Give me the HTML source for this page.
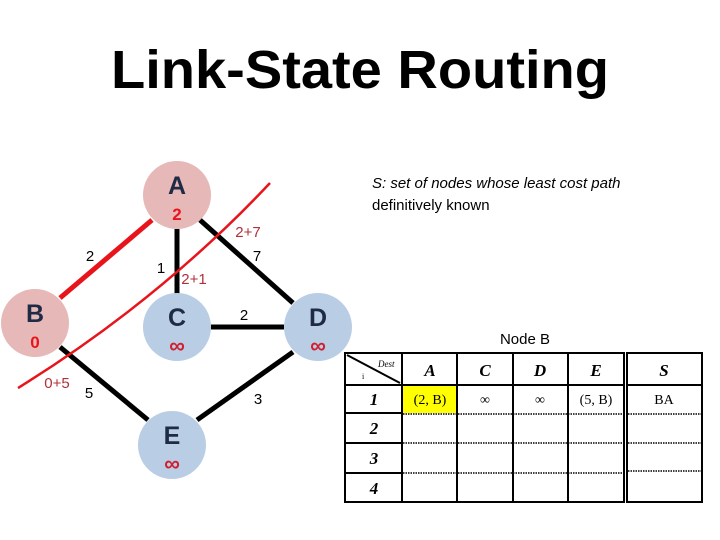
<!DOCTYPE html>
<html><head><meta charset="utf-8"><style>
html,body{margin:0;padding:0;background:#fff;}
svg{display:block;}
.t{font-family:"Liberation Sans",sans-serif;}
.s{font-family:"Liberation Serif",serif;}
</style></head><body>
<svg width="720" height="540" viewBox="0 0 720 540" xmlns="http://www.w3.org/2000/svg">
<text class="t" x="360" y="88" font-size="54" font-weight="bold" text-anchor="middle" textLength="498" lengthAdjust="spacingAndGlyphs" fill="#000">Link-State Routing</text>

<!-- edges -->
<g stroke="#000" stroke-width="5">
<line x1="177" y1="229" x2="177" y2="295"/>
<line x1="200" y1="220" x2="293" y2="303"/>
<line x1="211" y1="327" x2="284" y2="327"/>
<line x1="60" y1="347" x2="148" y2="420"/>
<line x1="293" y1="352" x2="197" y2="420"/>
</g>
<line x1="152" y1="220" x2="60" y2="298" stroke="#e8141c" stroke-width="5"/>

<!-- nodes -->
<circle cx="177" cy="195" r="34" fill="#e6b8b7"/>
<circle cx="35" cy="323" r="34" fill="#e6b8b7"/>
<circle cx="177" cy="327" r="34" fill="#b9cde5"/>
<circle cx="318" cy="327" r="34" fill="#b9cde5"/>
<circle cx="172" cy="445" r="34" fill="#b9cde5"/>

<!-- red cut curve -->
<path d="M18,388 Q160,300 270,183" fill="none" stroke="#e8141c" stroke-width="2.5"/>

<g class="t" font-weight="bold" fill="#1f2a44" font-size="25" text-anchor="middle">
<text x="177" y="194">A</text>
<text x="35" y="322">B</text>
<text x="177" y="326">C</text>
<text x="318" y="326">D</text>
<text x="172" y="444">E</text>
</g>
<g class="t" font-weight="bold" fill="#e8141c" font-size="17" text-anchor="middle">
<text x="177" y="220">2</text>
<text x="35" y="348">0</text>
</g>
<g class="t" font-weight="bold" fill="#d02030" font-size="22" text-anchor="middle">
<text x="177" y="353">∞</text>
<text x="318" y="353">∞</text>
<text x="172" y="471">∞</text>
</g>

<g class="t" font-size="15" fill="#000" text-anchor="middle">
<text x="90" y="261">2</text>
<text x="161" y="273">1</text>
<text x="257" y="261">7</text>
<text x="244" y="320">2</text>
<text x="89" y="398">5</text>
<text x="258" y="404">3</text>
</g>
<g class="t" font-size="15" fill="#b0303a" text-anchor="middle">
<text x="194" y="284">2+1</text>
<text x="248" y="237">2+7</text>
<text x="57" y="388">0+5</text>
</g>

<text class="t" x="372" y="188" font-size="15" font-style="italic" fill="#000">S: set of nodes whose least cost path</text>
<text class="t" x="372" y="210" font-size="15" fill="#000">definitively known</text>
<text class="t" x="525" y="344" font-size="15" fill="#000" text-anchor="middle">Node B</text>

<!-- table -->
<rect x="402" y="386" width="55" height="27" fill="#ffff00"/>
<g stroke="#000" stroke-width="2" fill="none">
<rect x="345" y="353" width="279" height="149"/>
<rect x="627" y="353" width="75" height="149"/>
<line x1="402" y1="353" x2="402" y2="502"/>
<line x1="457" y1="353" x2="457" y2="502"/>
<line x1="513" y1="353" x2="513" y2="502"/>
<line x1="568" y1="353" x2="568" y2="502"/>
<line x1="345" y1="385" x2="624" y2="385"/>
<line x1="627" y1="385" x2="702" y2="385"/>
<line x1="345" y1="413" x2="402" y2="413"/>
<line x1="345" y1="443" x2="402" y2="443"/>
<line x1="345" y1="473" x2="402" y2="473"/>
<line x1="347" y1="355" x2="400" y2="383" stroke-width="2"/>
</g>
<g stroke="#000" stroke-width="1.5" stroke-dasharray="1.5 1">
<line x1="403" y1="414" x2="623" y2="414"/>
<line x1="403" y1="443" x2="623" y2="443"/>
<line x1="403" y1="473" x2="623" y2="473"/>
<line x1="628" y1="414" x2="701" y2="414"/>
<line x1="628" y1="443" x2="701" y2="443"/>
<line x1="628" y1="471" x2="701" y2="471"/>
</g>
<g class="s" fill="#000">
<text x="378" y="367" font-size="9" font-style="italic">Dest</text>
<text x="362" y="379" font-size="8">i</text>
<g font-size="17" font-weight="bold" font-style="italic" text-anchor="middle">
<text x="430" y="376">A</text>
<text x="485" y="376">C</text>
<text x="540" y="376">D</text>
<text x="596" y="376">E</text>
<text x="664" y="376">S</text>
<text x="374" y="405">1</text>
<text x="374" y="434">2</text>
<text x="374" y="464">3</text>
<text x="374" y="494">4</text>
</g>
<g font-size="14" text-anchor="middle">
<text x="430" y="404">(2, B)</text>
<text x="485" y="404">∞</text>
<text x="540" y="404">∞</text>
<text x="596" y="404">(5, B)</text>
<text x="664" y="404">BA</text>
</g>
</g>
</svg>
</body></html>
